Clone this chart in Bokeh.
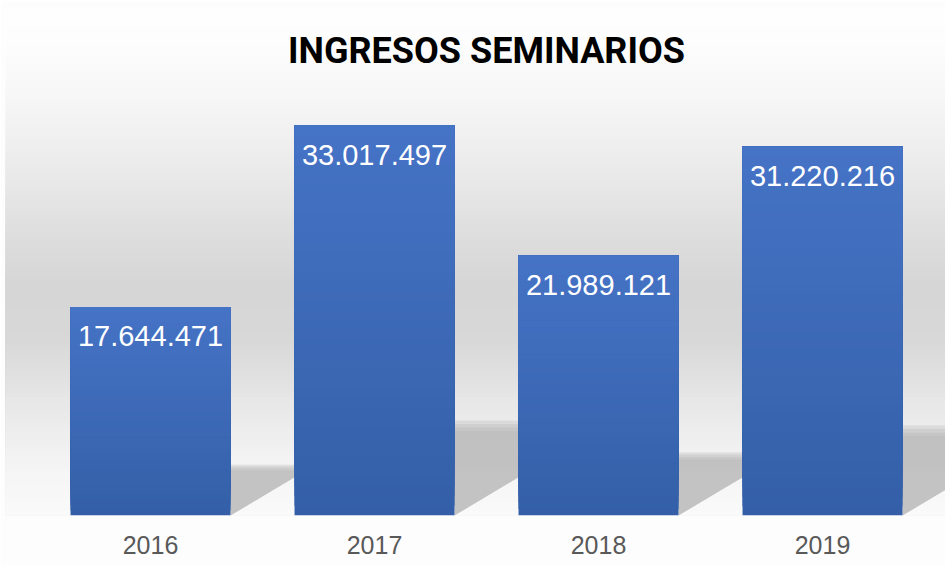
import numpy as np
from bokeh.plotting import figure
from bokeh.models import Range1d, FixedTicker, BoxAnnotation, Label
from bokeh.core.properties import value
from bokeh.embed import file_html
from bokeh.resources import INLINE

# ---------------- data ----------------
years = ["2016", "2017", "2018", "2019"]
ingresos = [17644471, 33017497, 21989121, 31220216]
etiquetas = ["17.644.471", "33.017.497", "21.989.121", "31.220.216"]
titulo = "INGRESOS SEMINARIOS"

# ---------------- layout ----------------
W, H = 945, 565
TOP = 8
LEFT = 5
FRAME_H = 507
SLOT = 224.0                 # px per category
PAD_L = (38 - LEFT) / SLOT   # extra frame to the left of first slot
PAD_R = (W - 934) / SLOT     # extra frame to the right of last slot
BAR_W = 0.714
ymax = max(ingresos) * 1.3
pos = list(range(len(years)))

p = figure(width=W, height=H, output_backend="svg", toolbar_location=None,
           x_range=Range1d(-0.5 - PAD_L, len(years) - 0.5 + PAD_R),
           y_range=Range1d(0, ymax),
           min_border_left=LEFT, min_border_right=0, min_border_top=TOP,
           min_border_bottom=H - TOP - FRAME_H)
p.outline_line_color = None
p.grid.visible = False
p.yaxis.visible = False
p.border_fill_color = "#fdfdfd"
p.background_fill_color = "#ffffff"

# background vertical gradient (fraction from frame top, gray level)
stops_f = [0.0, 0.063, 0.181, 0.313, 0.444, 0.542, 0.641, 0.708, 0.773, 0.822, 0.911, 1.0]
stops_g = [254, 253, 246, 235, 222, 214, 215, 222, 231, 236, 245, 250]
NB = 120
for k in range(NB):
    f0, f1 = k / NB, (k + 1) / NB
    g = int(round(np.interp((f0 + f1) / 2, stops_f, stops_g)))
    col = "#%02x%02x%02x" % (g, g, g)
    p.add_layout(BoxAnnotation(top=ymax * (1 - f0), bottom=0,
                               fill_color=col, fill_alpha=1.0, line_color=None,
                               level="underlay"))

# shadows (triangles to the right of each bar)
for scale in [1.06, 1.02, 0.98, 0.94]:
    xs, ys = [], []
    for i, v in zip(pos, ingresos):
        h = 0.23 * v * scale
        dx = 0.67 * (v / max(ingresos)) * scale
        r = i + BAR_W / 2
        xs.append([r, r, r + dx])
        ys.append([0, h, h])
    p.patches(xs, ys, fill_color="#b4b4b4", fill_alpha=0.3, line_color=None)

# bars with vertical gradient (overlapping segments, drawn bottom to top)
N = 40
bot_c = np.array([52, 95, 168])
top_c = np.array([69, 115, 197])
L, R, B, T, C = [], [], [], [], []
for k in range(N):
    t = k / (N - 1)
    c = (bot_c + (top_c - bot_c) * t).round().astype(int)
    for i, v in zip(pos, ingresos):
        L.append(i - BAR_W / 2)
        R.append(i + BAR_W / 2)
        B.append(v * k / N)
        T.append(v)
        C.append("#%02x%02x%02x" % tuple(c))
p.quad(left=L, right=R, bottom=B, top=T, fill_color=C, line_color=None)

# value labels inside bars
p.text(x=pos, y=ingresos, text=etiquetas, text_color="white",
       text_font=value("Liberation Sans"), text_font_size="29px",
       text_align="center", text_baseline="top", y_offset=19)

# title
p.add_layout(Label(x=(len(years) - 1) / 2, y=FRAME_H - 42, x_units="data", y_units="screen",
                   text=titulo, text_align="center", text_baseline="middle",
                   text_font="Roboto", text_font_style="bold", text_font_size="36px",
                   text_color="#000000"))

# x axis
p.xaxis.ticker = FixedTicker(ticks=pos)
p.xaxis.major_label_overrides = {i: y for i, y in zip(pos, years)}
p.xaxis.major_label_text_font = "Liberation Sans"
p.xaxis.major_label_text_font_size = "25px"
p.xaxis.major_label_text_color = "#595959"
p.xaxis.major_label_standoff = 14
p.xaxis.axis_line_color = None
p.xaxis.major_tick_line_color = None
p.xaxis.minor_tick_line_color = None

open("out.html", "w").write(file_html(p, INLINE))
